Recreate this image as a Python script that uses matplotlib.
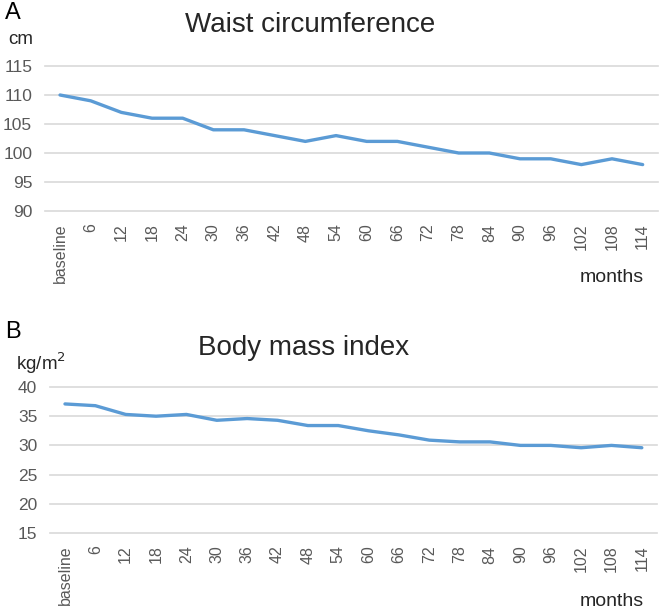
import matplotlib
matplotlib.use("Agg")
import matplotlib.pyplot as plt

plt.rcParams['font.family'] = ['Liberation Sans', 'DejaVu Sans']

months = ["baseline", "6", "12", "18", "24", "30", "36", "42", "48", "54",
          "60", "66", "72", "78", "84", "90", "96", "102", "108", "114"]
waist = [110, 109, 107, 106, 106, 104, 104, 103, 102, 103,
         102, 102, 101, 100, 100, 99, 99, 98, 99, 98]
bmi = [37.1, 36.8, 35.3, 35.0, 35.3, 34.3, 34.6, 34.3, 33.4, 33.4,
       32.5, 31.8, 30.9, 30.6, 30.6, 30.0, 30.0, 29.6, 30.0, 29.6]
waist_ticks = [90, 95, 100, 105, 110, 115]
bmi_ticks = [15, 20, 25, 30, 35, 40]

W, H = 661, 611
fig = plt.figure(figsize=(W / 100, H / 100), dpi=100)

LINE = '#5b9bd5'
GRID = '#d9d9d9'
TXT = '#595959'


def panel(left_px, right_px, top_px, bot_px, values, yticks, title, title_x,
          title_y, unit, unit_x, unit_y, letter, letter_y, months_y):
    left = left_px / W
    right = right_px / W
    ax = fig.add_axes([left, 1 - bot_px / H, right - left, (bot_px - top_px) / H])
    x = list(range(len(months)))
    ax.plot(x, values, color=LINE, lw=2.4, solid_joinstyle='round',
            solid_capstyle='round')
    ax.set_xlim(-0.5, len(months) - 0.5)
    ax.set_ylim(yticks[0], yticks[-1])
    ax.set_yticks(yticks)
    ax.set_xticks(x)
    ax.set_xticklabels(months, rotation=90, va='top', ha='center')
    ax.tick_params(axis='both', length=0, labelcolor=TXT)
    ax.tick_params(axis='x', pad=9, labelsize=11.5)
    ax.tick_params(axis='y', pad=9, labelsize=12.5)
    ax.yaxis.grid(True, color=GRID, lw=1.2)
    for gl in ax.get_ygridlines():
        gl.set_clip_on(False)
    ax.set_axisbelow(True)
    for s in ax.spines.values():
        s.set_visible(False)
    fig.text(title_x / W, 1 - title_y / H, title, ha='center', va='center',
             fontsize=20, color='#262626')
    fig.text(unit_x / W, 1 - unit_y / H, unit, ha='left', va='center',
             fontsize=13.5, color='#262626')
    fig.text(5 / W, 1 - letter_y / H, letter, ha='left', va='center',
             fontsize=17, color='black')
    fig.text(644 / W, 1 - months_y / H, 'months', ha='right', va='center',
             fontsize=14, color='#262626')
    return ax


panel(44.7, 658, 66, 211, waist, waist_ticks, 'Waist circumference', 310, 25,
      'cm', 8, 40, 'A', 13, 277)
panel(49.8, 657, 387, 533, bmi, bmi_ticks, 'Body mass index', 304, 348,
      'kg/m$^2$', 16, 363, 'B', 332, 602)

fig.savefig('out.png', dpi=100, facecolor='white')
